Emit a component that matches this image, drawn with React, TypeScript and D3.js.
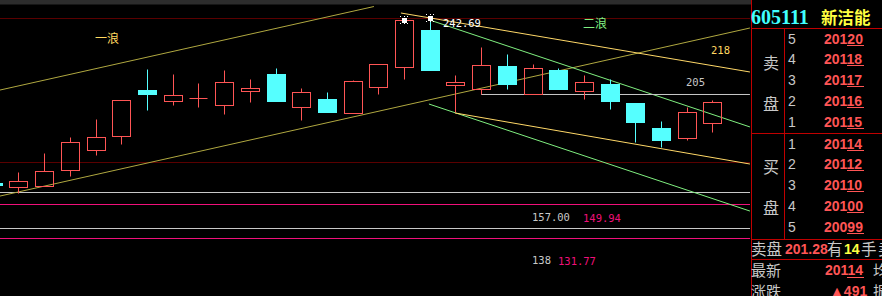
import React, { useEffect } from 'react';
import * as d3 from 'd3';

// ---- candle data (index, open, high, low, close) ----
const opens = [161.4, 159.6, 160.1, 168.0, 177.9, 184.8, 207.3, 202.0, 203.2, 200.1, 206.7, 215.2, 199.1, 202.9, 196.1, 209.0, 218.8, 236.9, 209.9, 207.7, 219.2, 205.5, 217.2, 206.7, 210.3, 200.9, 188.6, 183.5, 191.2];
const highs = [161.4, 166.9, 176.2, 184.1, 193.0, 202.4, 217.7, 215.4, 210.8, 217.2, 212.7, 218.2, 208.3, 206.3, 212.3, 220.1, 241.7, 242.69, 214.7, 228.5, 225.1, 220.1, 218.2, 214.7, 212.6, 200.9, 192.0, 199.1, 202.4];
const lows = [160.5, 156.7, 160.1, 165.0, 175.3, 180.8, 197.6, 199.9, 198.9, 195.6, 201.5, 202.0, 192.7, 196.6, 196.1, 205.5, 212.7, 217.2, 196.6, 205.3, 207.7, 205.5, 208.0, 203.0, 198.1, 181.8, 179.3, 182.8, 186.7];
const closes = [160.5, 162.3, 167.2, 181.5, 184.0, 202.4, 205.5, 204.7, 203.2, 211.3, 208.2, 202.0, 206.2, 196.6, 211.8, 220.1, 241.7, 217.2, 211.1, 219.5, 210.4, 218.0, 208.0, 211.3, 202.0, 191.7, 182.8, 196.3, 201.2];

// ---- trend lines in (candle index, price) ----
const trendNames = ['wave1Upper', 'wave1Lower', 'wave2UpperY', 'wave2UpperG', 'wave2LowerG', 'wave2LowerY', 'level205'];
const trendStartIdx = [0.28, 0.28, 15.88, 17.01, 16.97, 17.98, 19.0];
const trendStartPrice = [207.3, 155.0, 245.3, 241.8, 200.4, 196.0, 205.1];
const trendEndIdx = [14.83, 29.46, 29.46, 29.46, 29.46, 29.46, 29.46];
const trendEndPrice = [248.5, 237.9, 216.2, 189.1, 147.6, 170.8, 205.1];

// ---- horizontal full-width levels ----
const levelNames = ['topRed', 'midRed', 'gray157', 'mag149', 'gray138', 'mag131'];
const levelPrices = [242.69, 171.8, 157.0, 151.1, 139.2, 134.3];

// ---- labels ----
const highLabel = '242.69';
const waveLabels = ['一浪', '二浪'];
const levelLabels = ['218', '205'];

// ---- quote panel ----
const stockCode = '605111';
const stockName = '新洁能';
const sellLevels = ['5', '4', '3', '2', '1'];
const sellPrices = ['20120', '20118', '20117', '20116', '20115'];
const buyLevels = ['1', '2', '3', '4', '5'];
const buyPrices = ['20114', '20112', '20110', '20100', '20099'];
const outerPrice = '201.28';
const outerHands = '14';
const latestPrice = '20114';
const changeValue = '491';

const RED = '#ff5555';
const CYAN = '#55ffff';
const trendColor: Record<string, string> = {
  wave1Upper: '#b0a840',
  wave1Lower: '#b0a840',
  wave2UpperY: '#ffd868',
  wave2UpperG: '#80f080',
  wave2LowerG: '#80f080',
  wave2LowerY: '#ffd868',
  level205: '#c8c8c8',
};
const levelColor: Record<string, string> = {
  topRed: '#5a0000',
  midRed: '#5a0000',
  gray157: '#c8c8c8',
  mag149: '#f0107a',
  gray138: '#c8c8c8',
  mag131: '#f0107a',
};

const W = 882;
const H = 296;
const PLOT_R = 750;

export default function App() {
  useEffect(() => {
    document.body.style.margin = '0';
    document.body.style.background = '#000';
  }, []);

  const x = d3.scaleLinear().domain([0, 28]).range([-7.2, 712.4]);
  const y = d3.scaleLinear().domain([157, 242.69]).range([192, 18.3]);
  const bodyW = 18;
  const line = d3.line<[number, number]>().x((d) => d[0]).y((d) => d[1]);

  const candles = opens.map((o, i) => {
    const c = closes[i];
    const up = c >= o && i !== 0;
    const cx = Math.round(x(i)) + 0.5;
    const left = Math.round(x(i) - bodyW / 2) + 0.5;
    const top = Math.round(y(Math.max(o, c))) + 0.5;
    const bot = Math.round(y(Math.min(o, c))) + 0.5;
    const hi = Math.round(y(highs[i])) + 0.5;
    const lo = Math.round(y(lows[i])) + 0.5;
    const col = up ? RED : CYAN;
    return (
      <g key={i}>
        {hi < top && <line x1={cx} x2={cx} y1={hi} y2={top} stroke={col} />}
        {lo > bot && <line x1={cx} x2={cx} y1={bot} y2={lo} stroke={col} />}
        {up ? (
          bot - top < 1 ? (
            <line x1={left} x2={left + bodyW} y1={top} y2={top} stroke={col} />
          ) : (
            <rect x={left} y={top} width={bodyW} height={bot - top} fill="none" stroke={col} />
          )
        ) : (
          <rect x={left - 0.5} y={top - 0.5} width={bodyW + 1} height={Math.max(1, bot - top + 1)} fill={col} />
        )}
      </g>
    );
  });

  const trends = trendNames.map((n, i) => {
    const pts: [number, number][] = [
      [x(trendStartIdx[i]), y(trendStartPrice[i])],
      [Math.min(PLOT_R, x(trendEndIdx[i])), y(trendEndPrice[i])],
    ];
    return <path key={n} d={line(pts) || ''} stroke={trendColor[n]} strokeWidth={1} fill="none" />;
  });

  const levels = levelNames.map((n, i) => {
    const yy = Math.round(y(levelPrices[i])) + 0.5;
    return <line key={n} x1={0} x2={PLOT_R} y1={yy} y2={yy} stroke={levelColor[n]} strokeWidth={1} />;
  });

  const star = (i: number) => {
    const cx = Math.round(x(i));
    const cy = Math.round(y(highs[i]));
    return (
      <g key={'s' + i} fill="#fff">
        <rect x={cx - 2} y={cy - 2} width={5} height={5} />
        <rect x={cx - 4} y={cy - 4} width={1} height={1} />
        <rect x={cx + 3} y={cy - 4} width={1} height={1} />
        <rect x={cx - 4} y={cy + 3} width={1} height={1} />
        <rect x={cx + 3} y={cy + 3} width={1} height={1} />
        <rect x={cx} y={cy - 4} width={1} height={1} />
        <rect x={cx} y={cy + 3} width={1} height={1} />
      </g>
    );
  };

  const mono = "'DejaVu Sans Mono', monospace";
  const cjk = "'Noto Sans CJK SC', sans-serif";
  const num = "'Liberation Sans', Arial, sans-serif";
  const PR = '#c00000';
  const GRAY = '#c8c8c8';

  const sellBase = (k: number) => 43.5 + k * 20.9;
  const buyBase = (k: number) => 148.5 + k * 20.9;

  const priceRow = (lvl: string, price: string, base: number, key: string) => (
    <g key={key}>
      <text x={788} y={base} fill={GRAY} fontFamily={num} fontSize={14}>{lvl}</text>
      <text x={824} y={base} fill={RED} fontFamily={num} fontSize={14} fontWeight="bold">{price}</text>
      <line x1={847} x2={864} y1={Math.round(base) + 1.5} y2={Math.round(base) + 1.5} stroke={RED} />
    </g>
  );

  return (
    <svg width={W} height={H} style={{ position: 'absolute', left: 0, top: 0, background: '#000', display: 'block' }}>
      <rect x={0} y={0} width={W} height={H} fill="#000" />
      <rect x={0} y={0} width={751} height={4.5} fill="#2c2c2c" />
      {levels}
      {trends}
      {candles}
      {star(16)}
      {star(17)}
      <text x={443} y={27} fill="#fff" fontFamily={mono} fontSize={10.5}>{highLabel}</text>
      <text x={95} y={43} fill="#ffd860" fontFamily={cjk} fontSize={12}>{waveLabels[0]}</text>
      <text x={583} y={28} fill="#80f080" fontFamily={cjk} fontSize={12}>{waveLabels[1]}</text>
      <text x={711} y={54} fill="#ffd860" fontFamily={mono} fontSize={10.5}>{levelLabels[0]}</text>
      <text x={686} y={86} fill={GRAY} fontFamily={mono} fontSize={10.5}>{levelLabels[1]}</text>
      <text x={532} y={221} fill={GRAY} fontFamily={mono} fontSize={10.5}>157.00</text>
      <text x={583} y={222} fill="#f0107a" fontFamily={mono} fontSize={10.5}>149.94</text>
      <text x={532} y={264} fill={GRAY} fontFamily={mono} fontSize={10.5}>138</text>
      <text x={558} y={265} fill="#f0107a" fontFamily={mono} fontSize={10.5}>131.77</text>

      {/* quote panel */}
      <line x1={751.5} x2={751.5} y1={0} y2={H} stroke={PR} />
      <line x1={784.5} x2={784.5} y1={28} y2={239} stroke={PR} />
      <line x1={751} x2={W} y1={28.5} y2={28.5} stroke={PR} />
      <line x1={751} x2={W} y1={133.5} y2={133.5} stroke={PR} />
      <line x1={751} x2={W} y1={239.5} y2={239.5} stroke={PR} />
      <line x1={751} x2={W} y1={259.5} y2={259.5} stroke={PR} />
      <text x={751} y={24} fill="#40ffff" fontFamily="'Liberation Serif', serif" fontSize={20} fontWeight="bold">{stockCode}</text>
      <text x={821} y={24} fill="#ffff40" fontFamily={cjk} fontSize={16.5} fontWeight="bold">{stockName}</text>
      <text x={771} y={69} fill={GRAY} fontFamily={cjk} fontSize={16} textAnchor="middle">卖</text>
      <text x={771} y={110} fill={GRAY} fontFamily={cjk} fontSize={16} textAnchor="middle">盘</text>
      <text x={771} y={173} fill={GRAY} fontFamily={cjk} fontSize={16} textAnchor="middle">买</text>
      <text x={771} y={214} fill={GRAY} fontFamily={cjk} fontSize={16} textAnchor="middle">盘</text>
      {sellLevels.map((l, k) => priceRow(l, sellPrices[k], sellBase(k), 'sell' + k))}
      {buyLevels.map((l, k) => priceRow(l, buyPrices[k], buyBase(k), 'buy' + k))}

      <text x={751} y={255} fill={GRAY} fontFamily={cjk} fontSize={15.5}>卖盘</text>
      <text x={785} y={253.5} fill={RED} fontFamily={num} fontSize={14} fontWeight="bold">{outerPrice}</text>
      <text x={827} y={255} fill={GRAY} fontFamily={cjk} fontSize={15.5}>有</text>
      <text x={844} y={253.5} fill="#ffff40" fontFamily={num} fontSize={14} fontWeight="bold">{outerHands}</text>
      <text x={861} y={255} fill={GRAY} fontFamily={cjk} fontSize={15.5}>手</text>
      <text x={878} y={255} fill={GRAY} fontFamily={cjk} fontSize={15.5}>卖</text>

      <text x={751} y={276} fill={GRAY} fontFamily={cjk} fontSize={15}>最新</text>
      <text x={825} y={275} fill={RED} fontFamily={num} fontSize={14} fontWeight="bold">{latestPrice}</text>
      <line x1={847} x2={864} y1={277.5} y2={277.5} stroke={RED} />
      <text x={873} y={276} fill={GRAY} fontFamily={cjk} fontSize={15}>均</text>

      <text x={751} y={297} fill={GRAY} fontFamily={cjk} fontSize={15}>涨跌</text>
      <text x={830} y={296} fill={RED} fontFamily={num} fontSize={14} fontWeight="bold">▲{changeValue}</text>
      <text x={873} y={297} fill={GRAY} fontFamily={cjk} fontSize={15}>振</text>
    </svg>
  );
}
